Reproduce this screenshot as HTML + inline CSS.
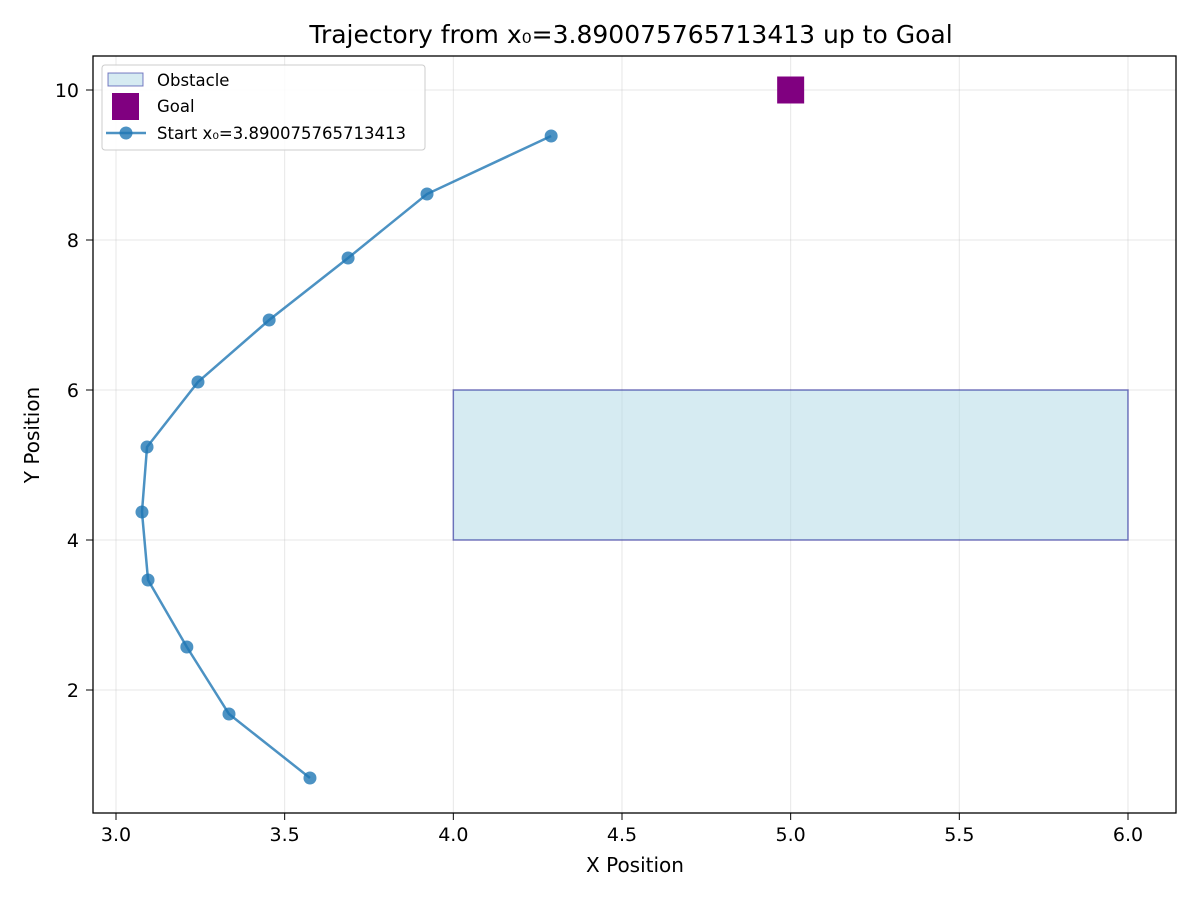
<!DOCTYPE html>
<html><head><meta charset="utf-8"><style>body{margin:0;background:#fff}svg{display:block;font-family:"DejaVu Sans","Liberation Sans",sans-serif}</style></head>
<body>
<svg id="chart" width="1200" height="900">
<rect width="1200" height="900" fill="#fff"/>
<text x="631" y="43" text-anchor="middle" font-size="25">Trajectory from x₀=3.890075765713413 up to Goal</text>
<g id="grid"></g>
<g id="ticks"></g>
<rect id="obstacle" fill="#add8e6" fill-opacity="0.5" stroke="#00008b" stroke-opacity="0.5" stroke-width="1.5"/>
<rect id="goal" fill="#800080" width="27" height="27"/>
<g id="series"></g>
<rect x="93" y="56" width="1083" height="757" fill="none" stroke="#000" stroke-width="1.3"/>
<text x="635" y="872" text-anchor="middle" font-size="20">X Position</text>
<text x="39" y="435" text-anchor="middle" font-size="20" transform="rotate(-90 39 435)">Y Position</text>
<g>
<rect x="102" y="65" width="323" height="85" fill="#fff" fill-opacity="0.85" stroke="#ccc" rx="3"/>
<g><rect x="108" y="73" width="35" height="13" fill="#add8e6" fill-opacity="0.5" stroke="#00008b" stroke-opacity="0.5"/><text x="157" y="86" font-size="16.5">Obstacle</text></g>
<g><rect x="112" y="93" width="27" height="27" fill="#800080"/><text x="157" y="112" font-size="16.5">Goal</text></g>
<g><line x1="106" y1="133" x2="146" y2="133" stroke="#1f77b4" stroke-opacity="0.8" stroke-width="2.5"/><circle cx="126" cy="133" r="6.5" fill="#1f77b4" fill-opacity="0.8"/><text x="157" y="139" font-size="16.5">Start x₀=3.890075765713413</text></g>
</g>
</svg>
<script>
const xTicks=[3.0,3.5,4.0,4.5,5.0,5.5,6.0];
const yTicks=[2,4,6,8,10];
const trajX=[3.575,3.335,3.210,3.095,3.077,3.092,3.243,3.454,3.688,3.922,4.290];
const trajY=[0.827,1.680,2.573,3.467,4.373,5.240,6.107,6.933,7.760,8.613,9.387];
const obstacleX=[4,6];
const obstacleY=[4,6];
const goalXY=[5,10];
const sx=v=>116+(v-3)*337.33;
const sy=v=>90+(10-v)*75;
const NS='http://www.w3.org/2000/svg';
function mk(t,a,p){const e=document.createElementNS(NS,t);for(const k in a)e.setAttribute(k,a[k]);p.appendChild(e);return e;}
const grid=document.getElementById('grid'),ticks=document.getElementById('ticks');
xTicks.forEach(v=>{const x=sx(v);
mk('line',{x1:x,x2:x,y1:56,y2:813,stroke:'#b0b0b0','stroke-opacity':0.3},grid);
mk('line',{x1:x,x2:x,y1:813,y2:820,stroke:'#000'},ticks);
const t=mk('text',{x:x,y:841,'text-anchor':'middle','font-size':19},ticks);t.textContent=v.toFixed(1);

});
yTicks.forEach(v=>{const y=sy(v);
mk('line',{x1:93,x2:1176,y1:y,y2:y,stroke:'#b0b0b0','stroke-opacity':0.3},grid);
mk('line',{x1:86,x2:93,y1:y,y2:y,stroke:'#000'},ticks);
const t=mk('text',{x:79,y:y+7,'text-anchor':'end','font-size':19},ticks);t.textContent=v;

});
const ob=document.getElementById('obstacle');
ob.setAttribute('x',sx(obstacleX[0]));ob.setAttribute('y',sy(obstacleY[1]));
ob.setAttribute('width',sx(obstacleX[1])-sx(obstacleX[0]));ob.setAttribute('height',sy(obstacleY[0])-sy(obstacleY[1]));
const g=document.getElementById('goal');g.setAttribute('x',sx(goalXY[0])-13.5);g.setAttribute('y',sy(goalXY[1])-13.5);
const s=document.getElementById('series');
const pl=mk('polyline',{points:trajX.map((x,i)=>sx(x)+','+sy(trajY[i])).join(' '),fill:'none',stroke:'#1f77b4','stroke-opacity':0.8,'stroke-width':2.5},s);


trajX.forEach((x,i)=>{const c=mk('circle',{cx:sx(x),cy:sy(trajY[i]),r:6.5,fill:'#1f77b4','fill-opacity':0.8},s);

});
</script>
</body></html>
